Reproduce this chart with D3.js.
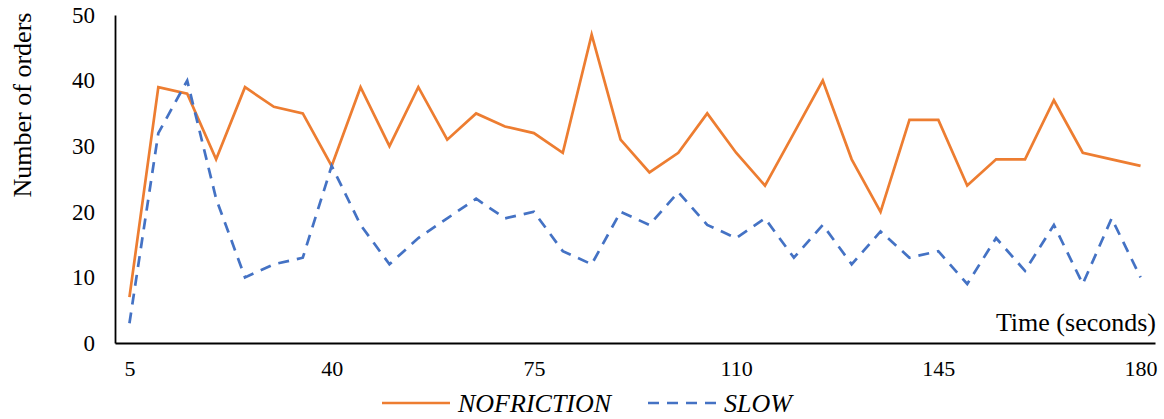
<!DOCTYPE html>
<html>
<head>
<meta charset="utf-8">
<script src="https://cdn.jsdelivr.net/npm/d3@7"></script>
<style>
  html, body { margin: 0; padding: 0; background: #fff; }
  svg { display: block; }
</style>
</head>
<body>
<svg id="chart" width="1164" height="419"></svg>
<script>
// Time steps (seconds)
const times = [5,10,15,20,25,30,35,40,45,50,55,60,65,70,75,80,85,90,95,100,105,110,115,120,125,130,135,140,145,150,155,160,165,170,175,180];
// Orders per time step, one array per scenario
const noFriction = [7,39,38,28,39,36,35,27,39,30,39,31,35,33,32,29,47,31,26,29,35,29,24,32,40,28,20,34,34,24,28,28,37,29,28,27];
const slow = [3,32,40,22,10,12,13,27,18,12,16,19,22,19,20,14,12,20,18,23,18,16,19,13,18,12,17,13,14,9,16,11,18,9,19,10];
const xTickLabels = [5,40,75,110,145,180];
const yTickLabels = [0,10,20,30,40,50];
const seriesNames = ["NOFRICTION", "SLOW"];

const FONT = '"Liberation Serif", "Times New Roman", serif';
const svg = d3.select("#chart");
const plot = { left: 115, right: 1155, top: 15, bottom: 343 };

const x = d3.scalePoint().domain(times).range([plot.left, plot.right]).padding(0.5);
const y = d3.scaleLinear().domain([0, 50]).range([plot.bottom, plot.top]);

const series = [
  { name: seriesNames[0], values: noFriction, color: "#ED7D31", dash: null },
  { name: seriesNames[1], values: slow, color: "#4472C4", dash: "11,8" }
];

// Y axis: line plus labels, no tick marks
const yAxis = svg.append("g").attr("transform", `translate(${plot.left},0)`)
  .call(d3.axisLeft(y).tickValues(yTickLabels).tickSize(0).tickPadding(20).tickFormat(d3.format("d")));
yAxis.select(".domain").attr("stroke", "#000").attr("stroke-width", 1.8);
yAxis.selectAll("text").style("font-family", FONT).style("font-size", "23px").attr("fill", "#000");

// X axis
const xAxis = svg.append("g").attr("transform", `translate(0,${plot.bottom})`)
  .call(d3.axisBottom(x).tickValues(xTickLabels).tickSize(0).tickPadding(17));
xAxis.select(".domain").attr("stroke", "#000").attr("stroke-width", 2.2);
xAxis.selectAll("text").style("font-family", FONT).style("font-size", "22px").attr("fill", "#000");

// Lines
const line = d3.line().x((d, i) => x(times[i])).y(d => y(d));
series.forEach(s => {
  svg.append("path")
    .datum(s.values)
    .attr("fill", "none")
    .attr("stroke", s.color)
    .attr("stroke-width", 2.7)
    .attr("stroke-linejoin", "miter")
    .attr("stroke-dasharray", s.dash)
    .attr("d", line);
});

// Axis titles
svg.append("text")
  .attr("transform", "translate(31,105) rotate(-90)")
  .attr("text-anchor", "middle")
  .style("font-family", FONT).style("font-size", "26px")
  .attr("fill", "#000")
  .text("Number of orders");

svg.append("text")
  .attr("x", 1156).attr("y", 331)
  .attr("text-anchor", "end")
  .style("font-family", FONT).style("font-size", "26px")
  .attr("fill", "#000")
  .text("Time (seconds)");

// Legend
const legendItems = [
  { s: series[0], x1: 382, x2: 450, tx: 458 },
  { s: series[1], x1: 648, x2: 716, tx: 724 }
];
const legendY = 403;
legendItems.forEach(it => {
  svg.append("line")
    .attr("x1", it.x1).attr("x2", it.x2)
    .attr("y1", legendY).attr("y2", legendY)
    .attr("stroke", it.s.color)
    .attr("stroke-width", 2.7)
    .attr("stroke-dasharray", it.s.dash);
  svg.append("text")
    .attr("x", it.tx).attr("y", legendY)
    .attr("dy", "0.35em")
    .style("font-family", FONT).style("font-size", "26px").style("font-style", "italic")
    .attr("fill", "#000")
    .text(it.s.name);
});
</script>
</body>
</html>
